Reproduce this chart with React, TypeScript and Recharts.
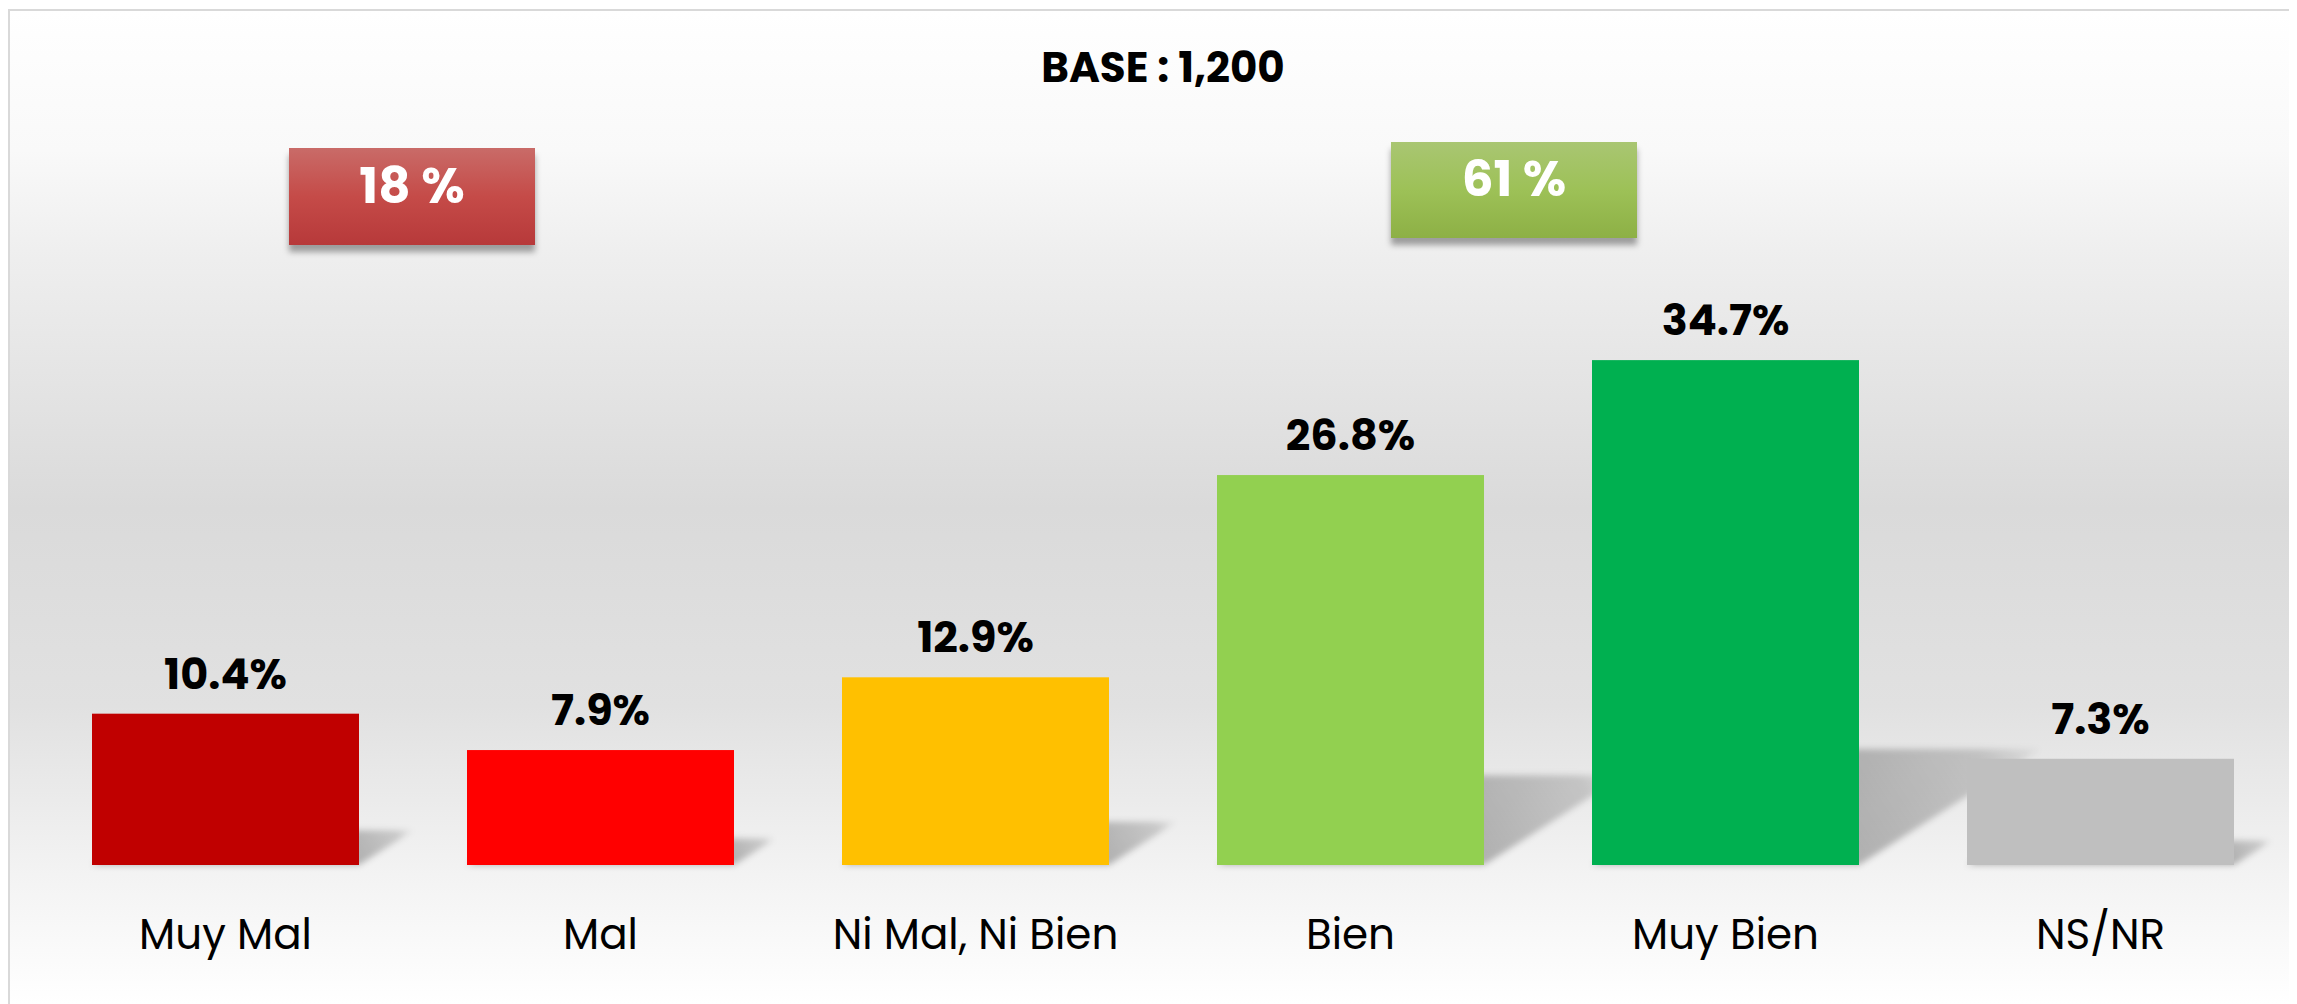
import { Bar, BarChart, LabelList, XAxis, YAxis } from "recharts"

const categories = ["Muy Mal", "Mal", "Ni Mal, Ni Bien", "Bien", "Muy Bien", "NS/NR"]
const values = [10.4, 7.9, 12.9, 26.8, 34.7, 7.3]
const barColors = ["#C00000", "#FF0000", "#FFC000", "#92D050", "#00B050", "#BFBFBF"]
const baseLabel = "BASE : 1,200"
const negativeTotal = "18 %"
const positiveTotal = "61 %"

const data = categories.map((name, i) => ({ name, value: values[i], color: barColors[i] }))

const FONT = "Poppins, Inter, 'Noto Sans', sans-serif"

// bar with a soft perspective shadow thrown back to the right
const ShadowBar = (props: any) => {
  const { x, y, width, height, index, payload } = props
  const bottom = y + height
  const dx = height * 0.36
  const dy = height * 0.23
  const id = `shadow-${index}`
  const pts = `${x},${bottom} ${x + width},${bottom} ${x + width + dx},${bottom - dy} ${x + dx},${bottom - dy}`
  return (
    <g>
      <defs>
        <filter id={`${id}-blur`} x="-20%" y="-30%" width="140%" height="160%">
          <feGaussianBlur stdDeviation="3" />
        </filter>
        <linearGradient
          id={`${id}-fade`}
          gradientUnits="userSpaceOnUse"
          x1={x + width}
          y1={bottom}
          x2={x + width + dx}
          y2={bottom - dy}
        >
          <stop offset="0" stopColor="#000" stopOpacity={0.27} />
          <stop offset="0.75" stopColor="#000" stopOpacity={0.16} />
          <stop offset="1" stopColor="#000" stopOpacity={0.03} />
        </linearGradient>
      </defs>
      <polygon points={pts} fill={`url(#${id}-fade)`} filter={`url(#${id}-blur)`} />
      <rect x={x} y={y} width={width} height={height} fill={payload.color} />
    </g>
  )
}

const renderValue = (props: any) => {
  const { x, y, width, value } = props
  return (
    <text
      x={x + width / 2}
      y={y - 25}
      textAnchor="middle"
      fontFamily={FONT}
      fontWeight={700}
      fontSize={43}
      fill="#000"
    >
      {`${value}%`}
    </text>
  )
}

const CategoryTick = (props: any) => {
  const { x, y, payload } = props
  return (
    <text x={x} y={y + 82} textAnchor="middle" fontFamily={FONT} fontSize={42} fill="#000">
      {payload.value}
    </text>
  )
}

const boxStyle = {
  position: "absolute" as const,
  width: 246,
  height: 97,
  boxSizing: "border-box" as const,
  display: "flex",
  alignItems: "center",
  justifyContent: "center",
  paddingBottom: 22,
  color: "#fff",
  fontFamily: FONT,
  fontWeight: 700,
  fontSize: 50,
  boxShadow: "0 7px 6px rgba(0,0,0,0.35)",
}

export default function App() {
  return (
    <div
      style={{
        position: "relative",
        marginTop: 1,
        width: 2289,
        height: 995,
        overflow: "hidden",
        borderTop: "2px solid #d9d9d9",
        borderLeft: "2px solid #d9d9d9",
        boxSizing: "border-box",
        background:
          "linear-gradient(to bottom, #ffffff 0%, #f9f9f9 14%, #eeeeee 25%, #dadada 50%, #e1e1e1 70%, #f3f3f3 87%, #ffffff 100%)",
      }}
    >
      <div
        style={{
          position: "absolute",
          left: 953,
          top: 25,
          width: 400,
          textAlign: "center",
          fontFamily: FONT,
          fontWeight: 700,
          fontSize: 42,
          color: "#000",
        }}
      >
        {baseLabel}
      </div>
      <div
        style={{
          ...boxStyle,
          left: 279,
          top: 137,
          background: "linear-gradient(to bottom, #c96b68 0%, #c54b48 50%, #b7393a 100%)",
        }}
      >
        {negativeTotal}
      </div>
      <div
        style={{
          ...boxStyle,
          left: 1381,
          top: 131,
          height: 96,
          background: "linear-gradient(to bottom, #a9c672 0%, #9dc157 50%, #8db045 100%)",
        }}
      >
        {positiveTotal}
      </div>
      <BarChart
        width={2287}
        height={993}
        data={data}
        margin={{ top: 272, right: 9, bottom: 39, left: 28 }}
        barSize={267}
      >
        <XAxis
          dataKey="name"
          axisLine={false}
          tickLine={false}
          tickSize={0}
          interval={0}
          height={100}
          tick={<CategoryTick />}
        />
        <YAxis hide domain={[0, 40]} />
        <Bar dataKey="value" shape={<ShadowBar />} isAnimationActive={false}>
          <LabelList dataKey="value" content={renderValue} />
        </Bar>
      </BarChart>
    </div>
  )
}
